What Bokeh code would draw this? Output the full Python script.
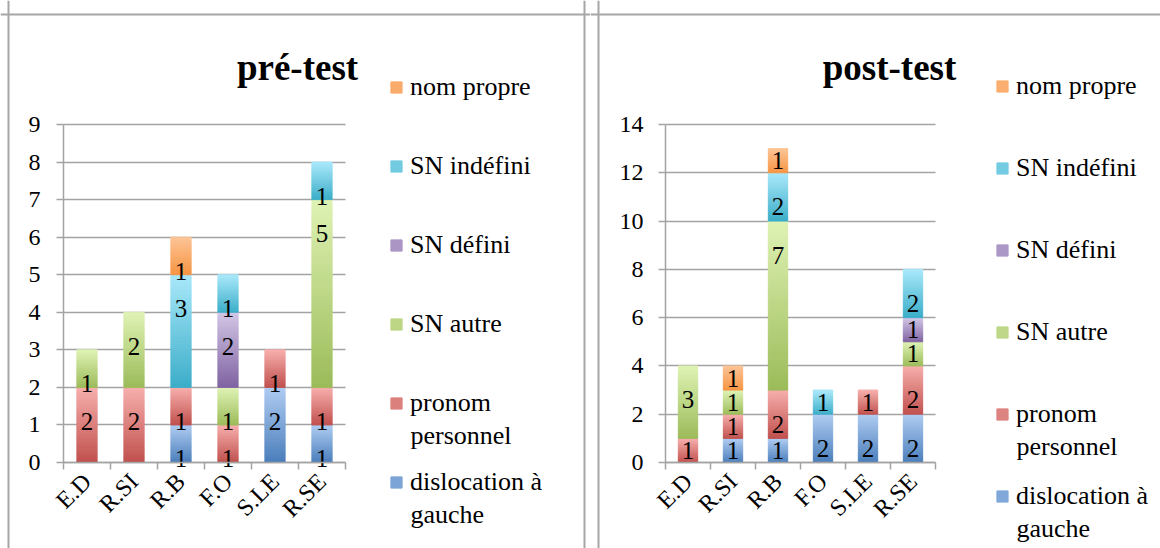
import math
from bokeh.plotting import figure
from bokeh.models import (ColumnDataSource, FixedTicker, Legend, LegendItem, Label,
                          Range1d, Span)
from bokeh.layouts import row
from bokeh.embed import file_html
from bokeh.resources import INLINE
from bokeh.core.properties import value

# ---------------- data ----------------
categories = ["E.D", "R.SI", "R.B", "F.O", "S.LE", "R.SE"]
series_names = ["dislocation à gauche", "pronom personnel", "SN autre",
                "SN défini", "SN indéfini", "nom propre"]
legend_first = ["dislocation à", "pronom", "SN autre", "SN défini", "SN indéfini", "nom propre"]
legend_second = ["gauche", "personnel", "", "", "", ""]

pre_dislocation = [0, 0, 1, 0, 2, 1]
pre_pronom = [2, 2, 1, 1, 1, 1]
pre_autre = [1, 2, 0, 1, 0, 5]
pre_defini = [0, 0, 0, 2, 0, 0]
pre_indefini = [0, 0, 3, 1, 0, 1]
pre_propre = [0, 0, 1, 0, 0, 0]

post_dislocation = [0, 1, 1, 2, 2, 2]
post_pronom = [1, 1, 2, 0, 1, 2]
post_autre = [3, 1, 7, 0, 0, 1]
post_defini = [0, 0, 0, 0, 0, 1]
post_indefini = [0, 0, 2, 1, 0, 2]
post_propre = [0, 1, 1, 0, 0, 0]

pre_yticks = [0, 1, 2, 3, 4, 5, 6, 7, 8, 9]
post_yticks = [0, 2, 4, 6, 8, 10, 12, 14]

# (dark bottom, light top) per series
series_colors = [
    ("#4a7ebb", "#aecbf1"),
    ("#c0504d", "#f6aeac"),
    ("#9bbb59", "#dff2b4"),
    ("#7f62a1", "#d2c6e5"),
    ("#3badc8", "#a9e8fa"),
    ("#f79441", "#fcc496"),
]

FONT = "Liberation Serif"
GRID = "#a3a3a3"
BORDER_COLOR = "#a6a6a6"
PAGE_H = 548


def hex2rgb(h):
    h = h.lstrip("#")
    return tuple(int(h[i:i + 2], 16) for i in (0, 2, 4))


def mix(c1, c2, t):
    a, b = hex2rgb(c1), hex2rgb(c2)
    return "#%02x%02x%02x" % tuple(int(round(a[i] + (b[i] - a[i]) * t)) for i in range(3))


def make_panel(title, data, ymax, yticks, canvas_left, canvas_w,
               ax_left, ax_right, ax_top, ax_bottom, title_cx, title_base,
               legend_x, legend_y0, pitch, second_dy, borders_x, border_top, ystandoff):
    ncat = len(categories)
    ppx = (ax_right - ax_left) / ncat          # px per category
    ppu = (ax_bottom - ax_top) / ymax          # px per y unit

    def px2x(px):
        return (px - ax_left) / ppx

    def py2y(py):
        return (ax_bottom - py) / ppu

    p = figure(width=canvas_w, height=PAGE_H, output_backend="svg", toolbar_location=None,
               title=None,
               x_range=Range1d(px2x(canvas_left), px2x(canvas_left + canvas_w)),
               y_range=Range1d(py2y(PAGE_H), py2y(0)),
               min_border=0, min_border_left=0, min_border_right=0,
               min_border_top=0, min_border_bottom=0)
    p.outline_line_color = None
    p.background_fill_color = "white"
    p.border_fill_color = "white"

    xs = [i + 0.5 for i in range(ncat)]
    bottoms = [0] * ncat
    lab_x, lab_y, lab_t = [], [], []
    renderers = []
    for s, vals in enumerate(data):
        dark, light = series_colors[s]
        bx, bb, bt, bc = [], [], [], []
        first_mid = 0
        for i, v in enumerate(vals):
            if v <= 0:
                continue
            b0, t0 = bottoms[i], bottoms[i] + v
            nb = max(6, int(round(v * ppu / 2)))
            if not bx:
                first_mid = nb // 2
            for k in range(nb):
                bx.append(xs[i])
                bb.append(b0 + (t0 - b0) * k / nb)
                bt.append(b0 + (t0 - b0) * (k + 1) / nb)
                bc.append(mix(dark, light, (k + 0.5) / nb))
            lab_x.append(xs[i])
            if v * ppu >= 34:
                lab_y.append(t0 - 34 / ppu)
            else:
                lab_y.append((b0 + t0) / 2)
            lab_t.append(str(v))
            bottoms[i] = t0
        src = ColumnDataSource(dict(x=bx, bottom=bb, top=bt, color=bc))
        r = p.vbar(x="x", bottom="bottom", top="top", width=0.43, source=src,
                   fill_color="color", line_color="color", line_width=1.0)
        renderers.append((r, first_mid))

    p.text(x=lab_x, y=lab_y, text=lab_t, text_font=value(FONT), text_font_size="25px",
           text_align="center", text_baseline="middle", text_color="black")

    # axes, placed at the data origin
    xa = p.xaxis[0]
    xa.fixed_location = 0
    xa.bounds = (0, ncat)
    xa.ticker = FixedTicker(ticks=xs, minor_ticks=list(range(ncat + 1)))
    xa.major_label_overrides = {x: c for x, c in zip(xs, categories)}
    xa.major_tick_line_color = None
    xa.minor_tick_line_color = GRID
    xa.minor_tick_line_width = 1.5
    xa.minor_tick_in = 0
    xa.minor_tick_out = 7
    xa.axis_line_color = GRID
    xa.axis_line_width = 1.5
    xa.major_label_orientation = math.pi / 4
    xa.major_label_text_font = FONT
    xa.major_label_text_font_size = "24px"
    xa.major_label_text_color = "black"
    xa.major_label_standoff = 8

    ya = p.yaxis[0]
    ya.fixed_location = 0
    ya.bounds = (0, ymax)
    ya.ticker = FixedTicker(ticks=yticks)
    ya.major_tick_line_color = GRID
    ya.major_tick_line_width = 1.5
    ya.major_tick_in = 0
    ya.major_tick_out = 7
    ya.minor_tick_line_color = None
    ya.axis_line_color = GRID
    ya.axis_line_width = 1.5
    ya.major_label_text_font = FONT
    ya.major_label_text_font_size = "24px"
    ya.major_label_text_color = "black"
    ya.major_label_standoff = ystandoff

    p.xgrid.grid_line_color = None
    gy = p.ygrid[0]
    gy.ticker = FixedTicker(ticks=yticks)
    gy.bounds = (0, ymax)
    try:
        gy.cross_bounds = (0, ncat)
        gy.grid_line_color = GRID
        gy.grid_line_width = 1.5
    except Exception:
        gy.grid_line_color = None
        p.segment(x0=[0] * len(yticks), x1=[ncat] * len(yticks), y0=yticks, y1=yticks,
                  line_color=GRID, line_width=1.5, level="underlay")

    # panel border (left, top, right; no bottom)
    for bxp in borders_x:
        p.add_layout(Span(location=px2x(bxp), dimension="height", line_color=BORDER_COLOR,
                          line_width=2))
    p.add_layout(Span(location=py2y(border_top), dimension="width", line_color=BORDER_COLOR,
                      line_width=2))

    # title
    p.add_layout(Label(x=px2x(title_cx), y=py2y(title_base), text=title, text_font=FONT,
                       text_font_size="37px", text_font_style="bold", text_align="center",
                       text_baseline="alphabetic", text_color="black"))

    # legend (top item first)
    items = []
    for s in reversed(range(len(series_names))):
        r, idx = renderers[s]
        items.append(LegendItem(label=legend_first[s], renderers=[r], index=idx))
    spacing = int(round(pitch - 30))
    leg_top = legend_y0 - 15
    leg_h = 6 * 30 + 5 * spacing
    legend = Legend(items=items,
                    location=(legend_x - canvas_left, PAGE_H - (leg_top + leg_h)),
                    padding=0, margin=0, spacing=spacing, label_height=30,
                    glyph_height=14, glyph_width=14, label_standoff=7,
                    label_text_font=FONT, label_text_font_size="26px",
                    label_text_color="black", border_line_color=None,
                    background_fill_alpha=0)
    p.add_layout(legend, "center")
    for s in range(len(series_names)):
        if legend_second[s]:
            pos = len(series_names) - 1 - s
            cy = legend_y0 + pos * (spacing + 30) + second_dy
            p.add_layout(Label(x=px2x(legend_x + 21), y=py2y(cy), text=legend_second[s],
                               text_font=FONT, text_font_size="26px",
                               text_baseline="middle", text_align="left",
                               text_color="black"))
    return p


pre_data = [pre_dislocation, pre_pronom, pre_autre, pre_defini, pre_indefini, pre_propre]
post_data = [post_dislocation, post_pronom, post_autre, post_defini, post_indefini, post_propre]

p1 = make_panel("pré-test", pre_data, 9, pre_yticks, canvas_left=0, canvas_w=590,
                ax_left=63, ax_right=345, ax_top=124, ax_bottom=462,
                title_cx=297, title_base=67, legend_x=389, legend_y0=87, pitch=78.6,
                second_dy=32, borders_x=[8, 584], border_top=14, ystandoff=16)
p2 = make_panel("post-test", post_data, 14, post_yticks, canvas_left=590, canvas_w=570,
                ax_left=665, ax_right=935, ax_top=124, ax_bottom=462,
                title_cx=889, title_base=67, legend_x=995, legend_y0=86, pitch=81.8,
                second_dy=32, borders_x=[598], border_top=14, ystandoff=15)

layout = row(p1, p2)
open("out.html", "w").write(file_html(layout, INLINE))
